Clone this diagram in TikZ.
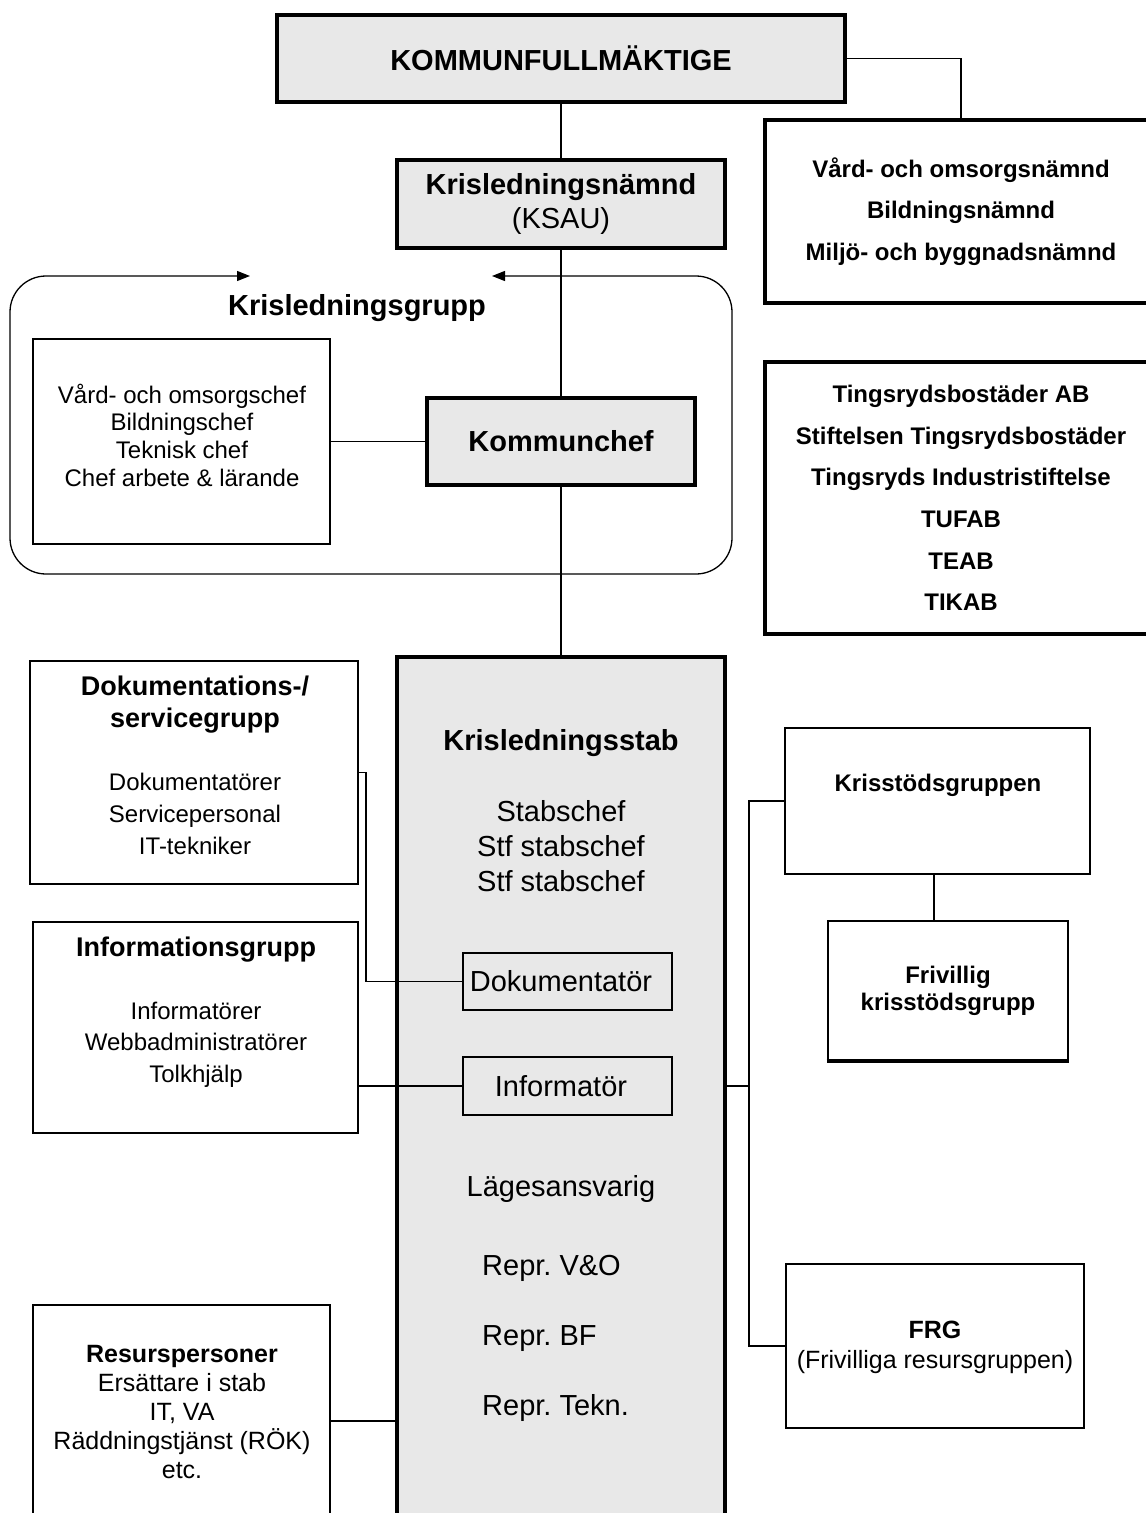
\documentclass[tikz,border=0pt]{standalone}
\usepackage{fontspec}
\setmainfont{Liberation Sans}
\usetikzlibrary{arrows.meta}
\frenchspacing
\begin{document}
\begin{tikzpicture}[x=1pt,y=-1pt,
  thickbox/.style={draw, line width=3.6pt, inner sep=0pt, outer sep=0pt},
  greybox/.style={thickbox, fill=black!9},
  medbox/.style={draw, line width=2.6pt, inner sep=0pt, outer sep=0pt},
  thinbox/.style={draw, line width=1.4pt, inner sep=0pt, outer sep=0pt},
  conn/.style={line width=1.3pt},
  txt/.style={inner sep=0pt, align=center},
  bigb/.style={txt, font=\fontsize{29}{34}\selectfont\bfseries},
  bigr/.style={txt, font=\fontsize{29}{35}\selectfont},
  midb/.style={txt, font=\fontsize{27}{32}\selectfont\bfseries},
  smallr/.style={txt, font=\fontsize{24}{32}\selectfont},
  smallb/.style={txt, font=\fontsize{24}{27}\selectfont\bfseries}
]
\useasboundingbox (0,0) rectangle (1146,1513);
\clip (0,0) rectangle (1146,1513);

% top level
\node[greybox, minimum width=568pt, minimum height=87pt, font=\fontsize{29}{34}\selectfont\bfseries] (kf) at (561,58.5) {KOMMUNFULLMÄKTIGE};
\node[greybox, minimum width=328pt, minimum height=88pt, align=center, font=\fontsize{29}{34}\selectfont] (ksn) at (561,204) {\textbf{Krisledningsnämnd}\\(KSAU)};
\node[thickbox, minimum width=392pt, minimum height=183pt, align=center, font=\fontsize{24}{41.5}\selectfont\bfseries] (namnd) at (961,211.5) {Vård- och omsorgsnämnd\\Bildningsnämnd\\Miljö- och byggnadsnämnd};
\node[thickbox, minimum width=392pt, minimum height=272pt, align=center, font=\fontsize{24}{41.6}\selectfont\bfseries] (comp) at (961,498) {Tingsrydsbostäder AB\\Stiftelsen Tingsrydsbostäder\\Tingsryds Industristiftelse\\TUFAB\\TEAB\\TIKAB};

% Krisledningsgrupp frame
\draw[conn, rounded corners=36pt, {Triangle[length=13pt,width=10pt]}-{Triangle[length=13pt,width=10pt]}]
  (492,276) -- (732,276) -- (732,574) -- (10,574) -- (10,276) -- (250,276);
\node[bigb] (grptitle) at (357,308) {Krisledningsgrupp};
\node[thinbox, minimum width=297pt, minimum height=205pt] (chef) at (181.5,441.5) {};
\node[txt, font=\fontsize{24}{27.7}\selectfont] (cheftxt) at (182,435) {Vård- och omsorgschef\\Bildningschef\\Teknisk chef\\Chef arbete \& lärande};
\node[greybox, minimum width=268pt, minimum height=87pt, font=\fontsize{29}{34}\selectfont\bfseries] (kchef) at (561,441.5) {Kommunchef};

% Krisledningsstab
\node[greybox, minimum width=328pt, minimum height=880pt, anchor=north] (stab) at (561,657) {};
\node[bigb] (stabtitle) at (561,743) {Krisledningsstab};
\node[bigr] (stabchefs) at (561,846) {Stabschef\\Stf stabschef\\Stf stabschef};
\node[thinbox, minimum width=209pt, minimum height=57pt, font=\fontsize{29}{34}\selectfont] (doc) at (567.5,981.5) {\hspace*{-13pt}Dokumentatör};
\node[thinbox, minimum width=209pt, minimum height=58pt, font=\fontsize{29}{34}\selectfont] (inf) at (567.5,1086) {\hspace*{-13pt}Informatör};
\node[bigr] (lage) at (561,1189) {Lägesansvarig};
\node[bigr, anchor=west] (reprvo) at (482,1268) {Repr. V\&O};
\node[bigr, anchor=west] (reprbf) at (482,1339) {Repr. BF};
\node[bigr, anchor=west] (reprtk) at (482,1408) {Repr. Tekn.};

% left groups
\node[medbox, minimum width=328pt, minimum height=223pt] (dokgrp) at (194,772.5) {};
\node[midb] (dokgrptitle) at (195,705) {Dokumentations-/\\servicegrupp};
\node[smallr] (dokgrptxt) at (195,814) {Dokumentatörer\\Servicepersonal\\IT-tekniker};
\node[medbox, minimum width=325pt, minimum height=211pt] (infgrp) at (195.5,1027.5) {};
\node[midb] (infgrptitle) at (196,950) {Informationsgrupp};
\node[txt, font=\fontsize{24}{31.5}\selectfont] (infgrptxt) at (196,1044.5) {Informatörer\\Webbadministratörer\\Tolkhjälp};
\node[thinbox, minimum width=297pt, minimum height=230pt, anchor=north] (res) at (181.5,1305) {};
\node[txt, font=\fontsize{25}{29.2}\selectfont] (restxt) at (182,1412) {\textbf{Resurspersoner}\\Ersättare i stab\\IT, VA\\Räddningstjänst (RÖK)\\etc.};

% right groups
\node[medbox, minimum width=305pt, minimum height=146pt] (kstod) at (937.5,801) {};
\node[smallb] (kstodtxt) at (938,785) {Krisstödsgruppen};
\node[medbox, minimum width=240pt, minimum height=140pt] (friv) at (948,991) {};
\draw[line width=4.2pt] ([xshift=-1.3pt]friv.south west) -- ([xshift=1.3pt]friv.south east);
\node[smallb] (frivtxt) at (948,991) {Frivillig\\krisstödsgrupp};
\node[thinbox, minimum width=298pt, minimum height=164pt] (frg) at (935,1346) {};
\node[txt, font=\fontsize{25}{30}\selectfont] (frgtxt) at (935,1347) {\textbf{FRG}\\(Frivilliga resursgruppen)};

% connectors
\draw[conn] (kf.south) -- (ksn.north);
\draw[conn] (kf.east) -| (namnd.north);
\draw[conn] (ksn.south) -- (kchef.north);
\draw[conn] (kchef.south) -- (stab.north);
\draw[conn] (chef.east |- kchef.west) -- (kchef.west);
\draw[conn] (dokgrp.east) -- ++(8,0) |- (doc.west);
\draw[conn] (infgrp.east |- inf.west) -- (inf.west);
\coordinate (bus) at (749,1086);
\draw[conn] (kstod.west) -- (bus |- kstod.west) |- (frg.west);
\draw[conn] (stab.east |- bus) -- (bus);
\draw[conn] (kstod.south -| 934,0) -- (friv.north -| 934,0);
\coordinate (resy) at (0,1421);
\draw[conn] (res.east |- resy) -- (stab.west |- resy);
\end{tikzpicture}
\end{document}
